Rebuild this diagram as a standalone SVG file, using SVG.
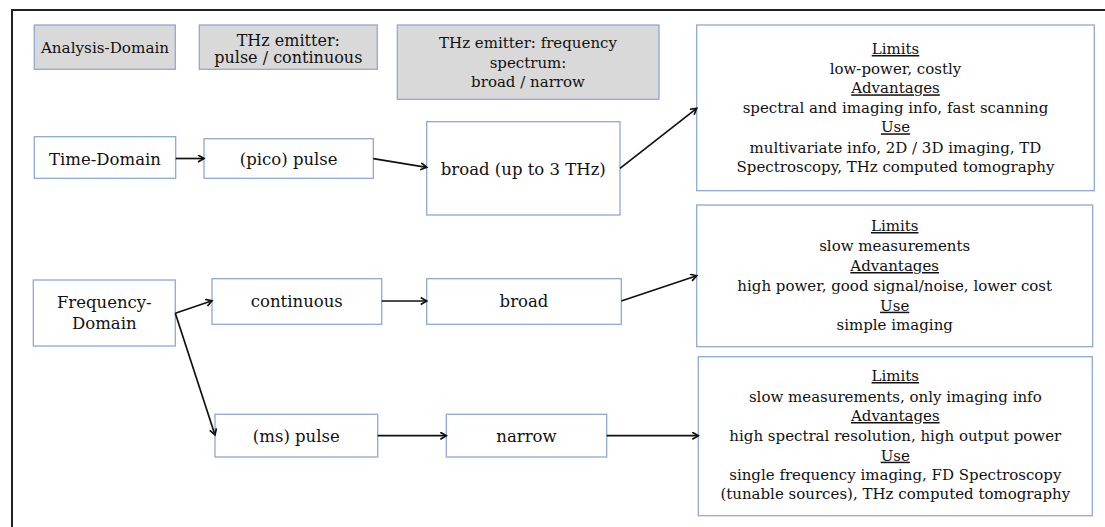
<svg xmlns="http://www.w3.org/2000/svg" width="1105" height="527" viewBox="0 0 1105 527">
<defs>
<marker id="ah" markerUnits="userSpaceOnUse" markerWidth="12" markerHeight="12" refX="7" refY="4" orient="auto">
<path d="M1,0.5 L7,4 L1,7.5" fill="none" stroke="#111" stroke-width="1.7"/>
</marker>
</defs>
<style>
.box{fill:#ffffff;stroke:#8eaad0;stroke-width:1.3}
.hdr{fill:#d9d9d9;stroke:#8eaad0;stroke-width:1.3}
.t{font-family:"DejaVu Serif","Liberation Serif",serif;fill:#111;text-anchor:middle}
.f{font-size:16.5px}
.r{font-size:15px}
.u{text-decoration:underline}
.c{fill:none;stroke:#111;stroke-width:1.7;marker-end:url(#ah)}
</style>
<rect width="1105" height="527" fill="#ffffff"/>
<g id="frame" fill="none" stroke="#222" stroke-width="2">
<path d="M12,527 L12,10 L1105,10"/>
</g>
<g id="n_analysis"><rect class="hdr" x="34.3" y="25" width="141" height="44.3"/><text class="t" x="105" y="53.3" font-size="15.2">Analysis-Domain</text></g>
<g id="n_emitter_type"><rect class="hdr" x="199.3" y="25" width="178" height="44.3"/><text class="t" x="288.3" y="45.5" font-size="16">THz emitter:</text><text class="t" x="288.3" y="63" font-size="16">pulse / continuous</text></g>
<g id="n_emitter_spectrum"><rect class="hdr" x="397.3" y="25" width="261.7" height="74.3"/><text class="t" x="528" y="48.3" font-size="15">THz emitter: frequency</text><text class="t" x="528" y="67.7" font-size="15">spectrum:</text><text class="t" x="528" y="87.3" font-size="15">broad / narrow</text></g>
<g id="n_time"><rect class="box" x="34.3" y="136.7" width="141.4" height="41.6"/><text class="t f" x="105" y="165">Time-Domain</text></g>
<g id="n_pico"><rect class="box" x="204" y="138.7" width="169.3" height="39.6"/><text class="t f" x="288.7" y="165">(pico) pulse</text></g>
<g id="n_broad3"><rect class="box" x="426.7" y="121.7" width="193.3" height="93.3"/><text class="t f" x="523.3" y="175">broad (up to 3 THz)</text></g>
<g id="n_freq"><rect class="box" x="33.3" y="280" width="142" height="66"/><text class="t f" x="104.3" y="308.3">Frequency-</text><text class="t f" x="104.3" y="329.3">Domain</text></g>
<g id="n_cont"><rect class="box" x="212" y="278.7" width="169.7" height="45.6"/><text class="t f" x="296.8" y="307.3">continuous</text></g>
<g id="n_broad"><rect class="box" x="426.7" y="278.7" width="194.6" height="45.6"/><text class="t f" x="524" y="307.3">broad</text></g>
<g id="n_ms"><rect class="box" x="215" y="414.3" width="162.7" height="42.7"/><text class="t f" x="296.3" y="441.7">(ms) pulse</text></g>
<g id="n_narrow"><rect class="box" x="446.3" y="414.3" width="160.4" height="42.7"/><text class="t f" x="526.5" y="441.7">narrow</text></g>
<g id="n_td_info"><rect class="box" x="696.7" y="25" width="397.6" height="165.7"/>
<text class="t r u" x="895.5" y="54">Limits</text>
<text class="t r" x="895.5" y="74">low-power, costly</text>
<text class="t r u" x="895.5" y="93.3">Advantages</text>
<text class="t r" x="895.5" y="112.7">spectral and imaging info, fast scanning</text>
<text class="t r u" x="895.5" y="132.3">Use</text>
<text class="t r" x="895.5" y="152.7">multivariate info, 2D / 3D imaging, TD</text>
<text class="t r" x="895.5" y="171.7">Spectroscopy, THz computed tomography</text>
</g>
<g id="n_fd_cont_info"><rect class="box" x="696.7" y="205" width="396" height="141.7"/>
<text class="t r u" x="894.7" y="231">Limits</text>
<text class="t r" x="894.7" y="251">slow measurements</text>
<text class="t r u" x="894.7" y="271">Advantages</text>
<text class="t r" x="894.7" y="291">high power, good signal/noise, lower cost</text>
<text class="t r u" x="894.7" y="310.7">Use</text>
<text class="t r" x="894.7" y="330">simple imaging</text>
</g>
<g id="n_fd_pulse_info"><rect class="box" x="698.3" y="356.7" width="394" height="159"/>
<text class="t r u" x="895.3" y="381">Limits</text>
<text class="t r" x="895.3" y="401.7">slow measurements, only imaging info</text>
<text class="t r u" x="895.3" y="421">Advantages</text>
<text class="t r" x="895.3" y="441">high spectral resolution, high output power</text>
<text class="t r u" x="895.3" y="460.7">Use</text>
<text class="t r" x="895.3" y="480">single frequency imaging, FD Spectroscopy</text>
<text class="t r" x="895.3" y="499">(tunable sources), THz computed tomography</text>
</g>
<g id="connectors">
<line class="c" x1="175.7" y1="158.5" x2="204" y2="158.5"/>
<line class="c" x1="373.3" y1="158.7" x2="426.7" y2="167.3"/>
<line class="c" x1="620" y1="168.3" x2="696.7" y2="108.3"/>
<line class="c" x1="175.3" y1="313.3" x2="212" y2="300.7"/>
<line class="c" x1="175.3" y1="313.3" x2="215" y2="435"/>
<line class="c" x1="381.7" y1="301" x2="426.7" y2="301"/>
<line class="c" x1="621.3" y1="301" x2="696.7" y2="275.7"/>
<line class="c" x1="377.7" y1="435.7" x2="446.3" y2="435.7"/>
<line class="c" x1="606.7" y1="435.7" x2="698.3" y2="435.7"/>
</g>
</svg>
